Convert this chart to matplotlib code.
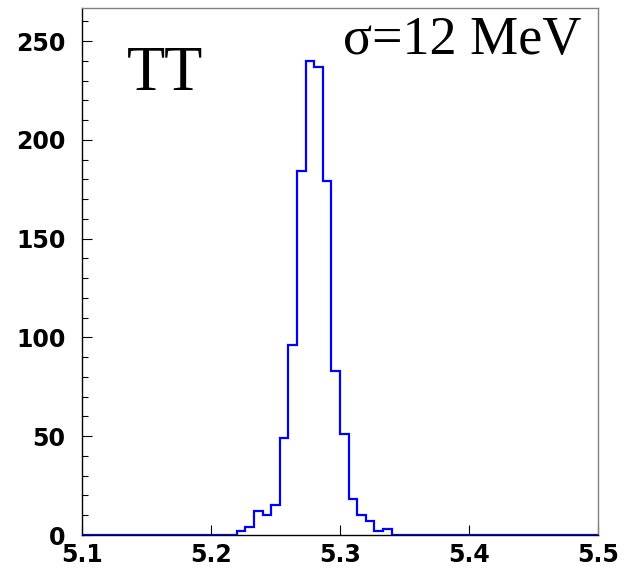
import numpy as np
import matplotlib
matplotlib.use('Agg')
import matplotlib.pyplot as plt
from matplotlib.ticker import MultipleLocator, FixedLocator

# mass histogram, 60 bins between 5.1 and 5.5 GeV
x_min, x_max, n_bins = 5.1, 5.5, 60
first_bin = 18
counts_nonzero = [2, 4, 12, 10, 15, 49, 96, 184, 240, 237, 179, 83, 51, 18, 10, 7, 2, 3]
x_ticks = [5.1, 5.2, 5.3, 5.4, 5.5]
y_ticks = [0, 50, 100, 150, 200, 250]

counts = np.zeros(n_bins)
counts[first_bin:first_bin + len(counts_nonzero)] = counts_nonzero
edges = np.linspace(x_min, x_max, n_bins + 1)

fig = plt.figure(figsize=(6.24, 5.73), dpi=100)
ax = fig.add_axes([0.1314, 0.0663, 0.9583 - 0.1314, 0.986 - 0.0663])

ax.stairs(counts, edges, color='#0000ff', lw=1.6, baseline=None, zorder=3)

ax.set_xlim(x_min, x_max)
ax.set_ylim(0, 266.7)

ax.xaxis.set_major_locator(FixedLocator(x_ticks))
ax.set_xticklabels([f'{v:.1f}' for v in x_ticks])
ax.yaxis.set_major_locator(FixedLocator(y_ticks))
ax.yaxis.set_minor_locator(MultipleLocator(10))

ax.tick_params(axis='both', which='major', direction='in', length=7, width=0.8,
               labelsize=17)
ax.tick_params(axis='y', which='minor', direction='in', length=4, width=0.8)
ax.tick_params(axis='y', pad=12)
ax.tick_params(axis='x', pad=6)
for lab in ax.get_xticklabels() + ax.get_yticklabels():
    lab.set_fontweight('bold')
    lab.set_family('DejaVu Sans')

for side in ('left', 'bottom'):
    ax.spines[side].set_color('black')
    ax.spines[side].set_linewidth(1.0)
for side in ('top', 'right'):
    ax.spines[side].set_color('#808080')
    ax.spines[side].set_linewidth(1.0)

ax.text(0.087, 0.844, 'TT', transform=ax.transAxes, family='Liberation Serif',
        fontsize=45, va='baseline', ha='left')
ax.text(0.506, 0.913, 'σ=12 MeV', transform=ax.transAxes, family='Liberation Serif',
        fontsize=39, va='baseline', ha='left')

fig.savefig('out.png', dpi=100)
